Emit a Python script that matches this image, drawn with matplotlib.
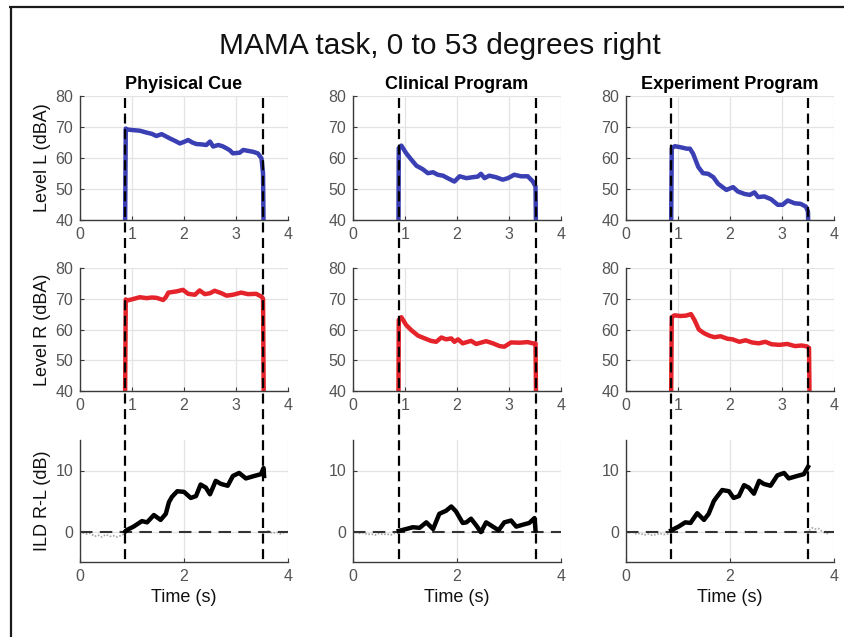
import matplotlib
matplotlib.use("Agg")
import matplotlib.pyplot as plt
from matplotlib.lines import Line2D
from matplotlib.transforms import blended_transform_factory

plt.rcParams['font.family'] = ['Liberation Sans', 'DejaVu Sans']

# ---------------- data ----------------
title = "MAMA task, 0 to 53 degrees right"
col_titles = ["Phyisical Cue", "Clinical Program", "Experiment Program"]
row_labels = ["Level L (dBA)", "Level R (dBA)", "ILD R-L (dB)"]
xlabel = "Time (s)"
onsets = [0.87, 0.88, 0.87]
offsets = [3.52, 3.52, 3.50]

# Physical cue
t_phys_L = [0.86, 0.88, 0.9, 1.02, 1.15, 1.28, 1.38, 1.47, 1.57, 1.65, 1.73, 1.83, 1.92, 2.0, 2.08, 2.16,
            2.24, 2.33, 2.43, 2.5, 2.56, 2.66, 2.74, 2.82, 2.88, 2.94, 3.0, 3.07, 3.14, 3.23, 3.33, 3.42,
            3.49, 3.52, 3.54]
L_phys = [20, 69.5, 69.2, 69.0, 68.8, 68.2, 67.8, 67.1, 67.7, 67.0, 66.3, 65.5, 64.7, 65.2, 65.8, 65.0,
          64.5, 64.4, 64.2, 65.3, 63.7, 64.2, 63.8, 63.1, 62.5, 61.5, 61.6, 61.7, 62.6, 62.3, 62.0, 61.5,
          59.9, 55, 20]
t_phys_R = [0.86, 0.88, 0.9, 1.02, 1.15, 1.28, 1.38, 1.47, 1.6, 1.65, 1.7, 1.86, 1.98, 2.08, 2.21, 2.3,
            2.4, 2.5, 2.59, 2.72, 2.82, 2.94, 3.1, 3.23, 3.39, 3.49, 3.52, 3.54]
R_phys = [20, 69.8, 69.4, 69.9, 70.5, 70.2, 70.4, 70.3, 69.6, 70.5, 72.0, 72.4, 72.9, 71.6, 71.3, 72.7,
          71.5, 71.8, 72.6, 71.8, 71.0, 71.3, 72.0, 71.5, 71.6, 70.7, 70.0, 20]
t_phys_I = [0.87, 0.89, 1.03, 1.19, 1.29, 1.42, 1.55, 1.65, 1.71, 1.77, 1.87, 2.0, 2.13, 2.23, 2.32, 2.42,
            2.5, 2.61, 2.71, 2.84, 2.94, 3.06, 3.19, 3.35, 3.48, 3.53, 3.54]
I_phys = [0.0, 0.2, 0.8, 1.7, 1.5, 2.7, 1.9, 2.9, 4.8, 5.7, 6.6, 6.5, 5.5, 5.8, 7.7, 7.2,
          6.1, 8.3, 7.8, 7.5, 9.1, 9.6, 8.7, 9.1, 9.4, 10.4, 9.1]
tn_phys = [0.05, 0.12, 0.2, 0.28, 0.35, 0.42, 0.5, 0.58, 0.65, 0.72, 0.8, 0.87, None,
           3.55, 3.62, 3.7, 3.78, 3.85, 3.92]
n_phys = [-0.2, -0.4, -0.3, -0.8, -0.6, -0.9, -0.5, -0.8, -0.7, -0.9, -0.6, -0.3, None,
          -0.2, 0.1, -0.3, -0.1, -0.4, -0.2]

# Clinical program
t_clin_L = [0.87, 0.88, 0.93, 1.02, 1.12, 1.22, 1.34, 1.44, 1.54, 1.63, 1.73, 1.82, 1.95, 2.05, 2.18, 2.3,
            2.4, 2.46, 2.53, 2.62, 2.75, 2.88, 2.98, 3.1, 3.23, 3.36, 3.46, 3.51, 3.53]
L_clin = [20, 63.2, 64.0, 61.6, 59.5, 57.5, 56.4, 55.1, 55.4, 54.6, 54.3, 53.5, 52.4, 54.1, 53.5, 53.8,
          54.0, 54.9, 53.5, 54.3, 53.8, 53.0, 53.5, 54.6, 54.1, 54.1, 52.4, 50.8, 20]
t_clin_R = [0.87, 0.88, 0.93, 1.02, 1.12, 1.25, 1.38, 1.5, 1.6, 1.7, 1.79, 1.89, 1.95, 2.02, 2.11, 2.27,
            2.37, 2.56, 2.69, 2.82, 2.91, 3.04, 3.2, 3.36, 3.46, 3.51, 3.53]
R_clin = [20, 63.1, 64.0, 61.5, 59.8, 58.0, 57.1, 56.3, 56.0, 57.4, 56.8, 57.1, 56.0, 56.8, 55.5, 56.3,
          55.3, 56.2, 55.5, 54.6, 54.4, 55.8, 55.7, 55.9, 55.5, 55.5, 20]
t_clin_I = [0.88, 1.02, 1.15, 1.28, 1.41, 1.54, 1.66, 1.79, 1.89, 1.98, 2.11, 2.18, 2.27, 2.37, 2.46, 2.56,
            2.69, 2.8, 2.91, 3.04, 3.14, 3.26, 3.39, 3.49, 3.51]
I_clin = [0.1, 0.4, 0.7, 0.6, 1.5, 0.4, 2.9, 3.4, 4.1, 3.3, 1.4, 1.5, 2.1, 1.0, -0.1, 1.5,
          0.8, 0.2, 1.5, 1.8, 0.8, 1.1, 1.4, 2.2, 0.2]
tn_clin = [0.05, 0.12, 0.2, 0.28, 0.35, 0.42, 0.5, 0.58, 0.65, 0.72, 0.8, 0.88]
n_clin = [-0.1, -0.3, -0.2, -0.5, -0.4, -0.6, -0.3, -0.5, -0.4, -0.6, -0.3, -0.1]

# Experiment program
t_exp_L = [0.86, 0.88, 0.94, 1.04, 1.17, 1.23, 1.29, 1.39, 1.48, 1.58, 1.68, 1.77, 1.93, 2.06, 2.15, 2.28,
           2.38, 2.47, 2.54, 2.66, 2.79, 2.92, 3.01, 3.11, 3.24, 3.36, 3.46, 3.5, 3.52]
L_exp = [20, 63.2, 63.8, 63.5, 63.0, 63.0, 61.4, 57.1, 55.1, 54.9, 53.8, 51.7, 49.7, 50.6, 49.2, 48.4,
         48.1, 48.9, 47.4, 47.6, 46.7, 44.9, 44.9, 46.3, 45.4, 45.2, 44.3, 42.7, 20]
t_exp_R = [0.86, 0.88, 0.93, 1.05, 1.15, 1.25, 1.32, 1.4, 1.5, 1.6, 1.7, 1.82, 1.95, 2.05, 2.18, 2.3,
           2.42, 2.55, 2.68, 2.8, 2.95, 3.1, 3.25, 3.38, 3.48, 3.52, 3.54]
R_exp = [20, 64.0, 64.6, 64.4, 64.5, 65.0, 63.0, 60.0, 58.8, 58.0, 57.5, 57.8, 57.0, 56.8, 56.0, 56.5,
         55.8, 55.5, 56.0, 55.2, 55.0, 55.3, 54.6, 54.8, 54.5, 54.0, 20]
t_exp_I = [0.87, 1.01, 1.14, 1.24, 1.37, 1.5, 1.59, 1.69, 1.75, 1.85, 1.98, 2.07, 2.17, 2.27, 2.36, 2.46,
           2.56, 2.65, 2.78, 2.91, 3.04, 3.13, 3.29, 3.42, 3.5]
I_exp = [0.2, 0.8, 1.5, 1.4, 3.0, 1.9, 2.9, 5.0, 5.7, 6.8, 6.6, 5.5, 5.8, 7.6, 7.2, 6.2,
         8.3, 7.8, 7.5, 9.2, 9.6, 8.7, 9.1, 9.4, 10.6]
tn_exp = [0.05, 0.12, 0.2, 0.28, 0.35, 0.42, 0.5, 0.58, 0.65, 0.72, 0.8, 0.87, None,
          3.52, 3.58, 3.64, 3.7, 3.76, 3.82, 3.9]
n_exp = [-0.2, -0.1, -0.4, -0.3, -0.6, -0.4, -0.6, -0.5, -0.3, -0.5, -0.4, -0.2, None,
         0.2, 0.6, 0.4, 0.5, 0.1, -0.2, -0.4]

level_L = [(t_phys_L, L_phys), (t_clin_L, L_clin), (t_exp_L, L_exp)]
level_R = [(t_phys_R, R_phys), (t_clin_R, R_clin), (t_exp_R, R_exp)]
ild = [(t_phys_I, I_phys), (t_clin_I, I_clin), (t_exp_I, I_exp)]
noise = [(tn_phys, n_phys), (tn_clin, n_clin), (tn_exp, n_exp)]

# ---------------- figure ----------------
W, H = 845, 637
fig = plt.figure(figsize=(W / 100, H / 100), dpi=100)
fig.patch.set_facecolor("white")

col_left = [80, 353, 626]
col_w = 208
rows = [(96, 220), (268, 391), (440, 562)]

BLUE = "#3a3fb3"
RED = "#e5232b"
TICKC = "#555555"
SPINEC = "#3a3a3a"
GRIDC = "#e3e3e3"


def mkax(x0, top, bot):
    ax = fig.add_axes([x0 / W, 1 - bot / H, col_w / W, (bot - top) / H])
    for s in ["top", "right"]:
        ax.spines[s].set_visible(False)
    for s in ["left", "bottom"]:
        ax.spines[s].set_color(SPINEC)
        ax.spines[s].set_linewidth(1.0)
    ax.tick_params(direction="in", length=3, colors=SPINEC, labelcolor=TICKC, labelsize=11.5, pad=5)
    ax.grid(True, color=GRIDC, linewidth=0.9)
    ax.set_axisbelow(True)
    ax.set_xlim(0, 4)
    return ax


axes = [[None] * 3 for _ in range(3)]
for c in range(3):
    for r in range(3):
        ax = mkax(col_left[c], *rows[r])
        axes[r][c] = ax
        if r < 2:
            ax.set_ylim(40, 80)
            ax.set_yticks([40, 50, 60, 70, 80])
            ax.set_xticks([0, 1, 2, 3, 4])
            t, v = (level_L if r == 0 else level_R)[c]
            ax.plot(t, v, color=BLUE if r == 0 else RED, lw=3.2, solid_joinstyle="round")
        else:
            ax.set_ylim(-5, 15)
            ax.set_yticks([0, 10])
            ax.set_xticks([0, 2, 4])
            tn, nv = noise[c]
            ax.plot(tn, nv, color="#a8a8a8", lw=1.2, ls=(0, (1, 1)))
            ax.plot([0, 4], [0, 0], color="#333333", lw=1.5, ls=(0, (6, 3.5)))
            t, v = ild[c]
            ax.plot(t, v, color="black", lw=3.2, solid_joinstyle="round")
            ax.set_xlabel(xlabel, fontsize=13, color="#111111", labelpad=4)
        if c == 0:
            ax.set_ylabel(row_labels[r], fontsize=13, color="#111111", labelpad=3)

    # vertical dashed markers spanning all rows
    tr = blended_transform_factory(axes[0][c].transData, fig.transFigure)
    for xv in (onsets[c], offsets[c]):
        fig.add_artist(Line2D([xv, xv], [1 - 98 / H, 1 - 562 / H], transform=tr,
                              color="black", lw=1.6, ls=(0, (4.5, 2.5))))

    axes[0][c].set_title(col_titles[c], fontsize=13, fontweight="bold", pad=5)

fig.text(440 / W, 1 - 46 / H, title, ha="center", va="center", fontsize=21.5, color="#111111")

# figure frame (top and left)
fig.add_artist(Line2D([9 / W, 1.01], [1 - 7 / H, 1 - 7 / H], transform=fig.transFigure,
                      color="#1a1a1a", lw=1.6, solid_capstyle="butt"))
fig.add_artist(Line2D([11 / W, 11 / W], [1 - 8 / H, -0.01], transform=fig.transFigure,
                      color="#1a1a1a", lw=1.6, solid_capstyle="butt"))

fig.savefig("out.png", dpi=100)
